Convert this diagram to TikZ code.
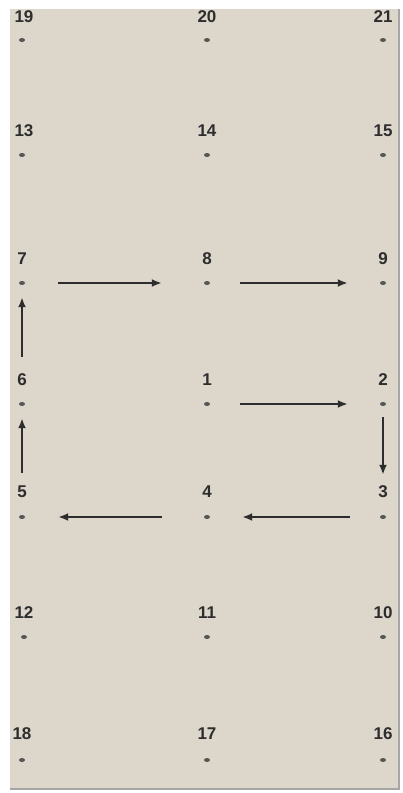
\documentclass[tikz,border=0pt]{standalone}
\usepackage{fontspec}
\setmainfont{Liberation Sans}
\usetikzlibrary{shapes.geometric,positioning,arrows.meta}
\definecolor{panel}{RGB}{221,214,203}
\definecolor{ink}{RGB}{45,45,45}
\begin{document}
\begin{tikzpicture}[x=1pt, y=-1pt,
  dot/.style={ellipse, fill=ink!80, inner sep=0pt, minimum width=6pt, minimum height=4pt},
  num/.style={inner sep=0pt, font=\fontsize{17}{17}\selectfont\bfseries, text=ink},
  arrow/.style={-{Latex[length=10pt, width=8pt]}, line width=2.4pt, draw=ink},
]
\useasboundingbox (0,0) rectangle (403,793);

% === Panel ===
\fill[panel] (10,9) rectangle (399,789);
\draw[gray!70, line width=1.2pt] (10,789) -- (399,789) -- (399,9);

% === Grid points: dot + number above ===
\node[dot] (d19) at (22,40) {};   \node[num] (n19) at (24,17) {19};
\node[dot] (d20) at (207,40) {};  \node[num] (n20) at (207,17) {20};
\node[dot] (d21) at (383,40) {};  \node[num] (n21) at (383,17) {21};

\node[dot] (d13) at (22,155) {};  \node[num] (n13) at (24,131) {13};
\node[dot] (d14) at (207,155) {}; \node[num] (n14) at (207,131) {14};
\node[dot] (d15) at (383,155) {}; \node[num] (n15) at (383,131) {15};

\node[dot] (d7) at (22,283) {};   \node[num] (n7) at (22,259) {7};
\node[dot] (d8) at (207,283) {};  \node[num] (n8) at (207,259) {8};
\node[dot] (d9) at (383,283) {};  \node[num] (n9) at (383,259) {9};

\node[dot] (d6) at (22,404) {};   \node[num] (n6) at (22,380) {6};
\node[dot] (d1) at (207,404) {};  \node[num] (n1) at (207,380) {1};
\node[dot] (d2) at (383,404) {};  \node[num] (n2) at (383,380) {2};

\node[dot] (d5) at (22,517) {};   \node[num] (n5) at (22,492) {5};
\node[dot] (d4) at (207,517) {};  \node[num] (n4) at (207,492) {4};
\node[dot] (d3) at (383,517) {};  \node[num] (n3) at (383,492) {3};

\node[dot] (d12) at (24,637) {};  \node[num] (n12) at (24,613) {12};
\node[dot] (d11) at (207,637) {}; \node[num] (n11) at (207,613) {11};
\node[dot] (d10) at (383,637) {}; \node[num] (n10) at (383,613) {10};

\node[dot] (d18) at (22,760) {};  \node[num] (n18) at (22,734) {18};
\node[dot] (d17) at (207,760) {}; \node[num] (n17) at (207,734) {17};
\node[dot] (d16) at (383,760) {}; \node[num] (n16) at (383,734) {16};

% === Path 1 -> 9 ===
\draw[arrow, shorten <=30pt, shorten >=32pt] (d1) -- (d2);
\draw[arrow, shorten <=11pt, shorten >=11pt] (d2) -- (n3);
\draw[arrow, shorten <=30pt, shorten >=32pt] (d3) -- (d4);
\draw[arrow, shorten <=42pt, shorten >=33pt] (d4) -- (d5);
\draw[arrow, shorten <=13pt, shorten >=12pt] (n5) -- (d6);
\draw[arrow, shorten <=17pt, shorten >=12pt] (n6) -- (d7);
\draw[arrow, shorten <=33pt, shorten >=42pt] (d7) -- (d8);
\draw[arrow, shorten <=30pt, shorten >=32pt] (d8) -- (d9);

\end{tikzpicture}
\end{document}
